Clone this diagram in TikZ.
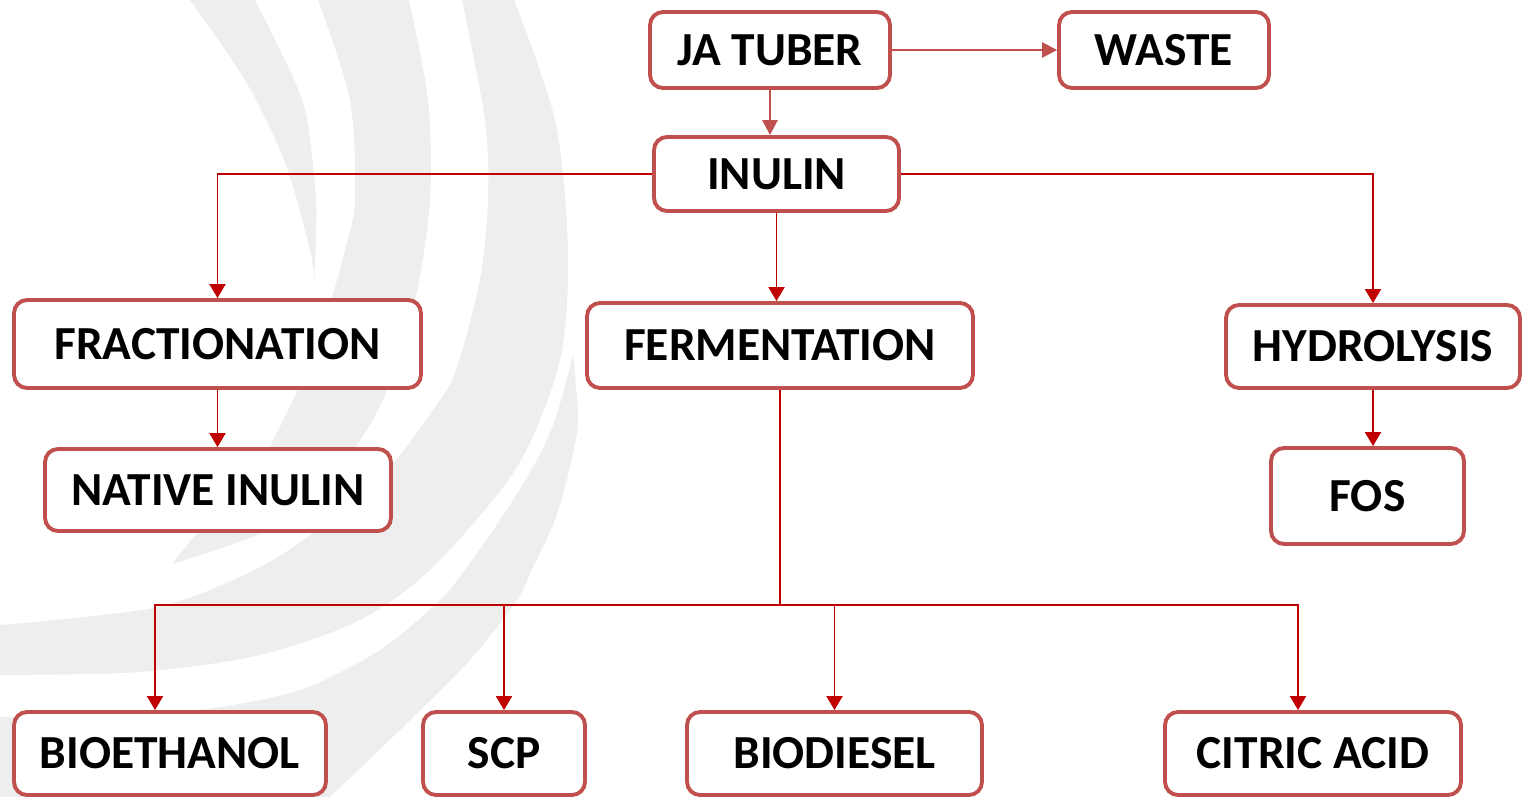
\documentclass[tikz,border=0pt]{standalone}
\usepackage{fontspec}
\setmainfont{Carlito}
\usetikzlibrary{arrows.meta, positioning}
\definecolor{myboxred}{RGB}{192, 80, 77}
\definecolor{mylinered}{RGB}{192, 0, 0}
\definecolor{myswirl}{RGB}{238, 238, 238}

\begin{document}
\begin{tikzpicture}[x=0.02cm, y=-0.02cm,
    procbox/.style={draw=myboxred, line width=2.2pt, rounded corners=0.26cm, fill=white,
        minimum height=1.66cm, inner sep=0pt, font=\bfseries\fontsize{27}{32}\selectfont},
    toparrow/.style={draw=myboxred, line width=1.5pt, -{Triangle[length=0.3cm, width=0.3cm]}},
    flowarrow/.style={draw=mylinered, line width=1.1pt, -{Triangle[length=0.28cm, width=0.32cm]}},
    flowline/.style={draw=mylinered, line width=1.1pt}]
\useasboundingbox (0,0) rectangle (1522,797);
% Background swirl
\fill[myswirl] plot[smooth] coordinates {(190,0) (245,80) (280,150) (297,200) (312,260) (314,283)}
    -- plot[smooth] coordinates {(314,283) (316,200) (305,110) (280,50) (255,0)} -- cycle;
\fill[myswirl] plot[smooth] coordinates {(409,0) (428,100) (430,200) (415,300) (383,400) (340,467) (280,525) (172,564)}
    -- plot[smooth] coordinates {(172,564) (200,530) (250,480) (293,400) (325,320) (345,250) (355,200) (350,100) (318,0)} -- cycle;
\fill[myswirl] plot[smooth] coordinates {(514,0) (555,120) (568,250) (560,360) (517,467) (433,567) (360,620) (260,655) (140,672) (0,675)}
    -- plot[smooth] coordinates {(0,625) (158,607) (260,567) (330,520) (390,467) (440,400) (457,367) (480,280) (488,200) (485,120) (462,0)} -- cycle;
\fill[myswirl] plot[smooth] coordinates {(573,355) (578,420) (570,467) (555,520) (533,567) (517,600) (470,660) (400,730) (330,797)}
    -- (0,797) -- plot[smooth] coordinates {(0,717) (100,716) (200,710) (300,690) (380,650) (440,600) (467,567) (500,520) (533,467) (555,420) (573,355)} -- cycle;
% Boxes
\node[procbox, minimum width=4.8cm, minimum height=1.52cm] (tuber) at (770,50) {JA TUBER};
\node[procbox, minimum width=4.2cm, minimum height=1.52cm] (waste) at (1164,50) {WASTE};
\node[procbox, minimum width=4.9cm, minimum height=1.48cm] (inulin) at (776.5,174) {INULIN};
\node[procbox, minimum width=8.14cm, minimum height=1.76cm] (fract) at (217.5,344) {FRACTIONATION};
\node[procbox, minimum width=7.72cm, minimum height=1.7cm] (ferm) at (780,345.5) {FERMENTATION};
\node[procbox, minimum width=5.88cm] (hydro) at (1373,346.5) {HYDROLYSIS};
\node[procbox, minimum width=6.92cm, minimum height=1.64cm] (native) at (218,490) {NATIVE INULIN};
\node[procbox, minimum width=3.86cm, minimum height=1.92cm] (fos) at (1367.5,496) {FOS};
\node[procbox, minimum width=6.24cm] (bioeth) at (170,753.5) {BIOETHANOL};
\node[procbox, minimum width=3.24cm] (scp) at (504,753.5) {SCP};
\node[procbox, minimum width=5.9cm] (biodiesel) at (834.5,753.5) {BIODIESEL};
\node[procbox, minimum width=5.92cm] (citric) at (1313,753.5) {CITRIC ACID};
% Arrows
\draw[toparrow] (tuber) -- (waste);
\draw[toparrow] (tuber.south) -- (tuber.south |- inulin.north);
\draw[flowarrow] (inulin.west) -| (fract.north);
\draw[flowarrow] (inulin.south) -- (inulin.south |- ferm.north);
\draw[flowarrow] (inulin.east) -| (hydro.north);
\draw[flowarrow] (fract.south) -- (fract.south |- native.north);
\draw[flowarrow] (hydro.south) -- (hydro.south |- fos.north);
% Fermentation products
\coordinate (busL) at (155,605);
\coordinate (busR) at (1298,605);
\draw[flowline] (ferm.south) -- (ferm.south |- busL);
\draw[flowarrow] (ferm.south |- busL) -- (busL) -- (busL |- bioeth.north);
\draw[flowarrow] (ferm.south |- busL) -- (busR) -- (busR |- citric.north);
\draw[flowarrow] (scp.north |- busL) -- (scp.north);
\draw[flowarrow] (biodiesel.north |- busL) -- (biodiesel.north);
\end{tikzpicture}
\end{document}
